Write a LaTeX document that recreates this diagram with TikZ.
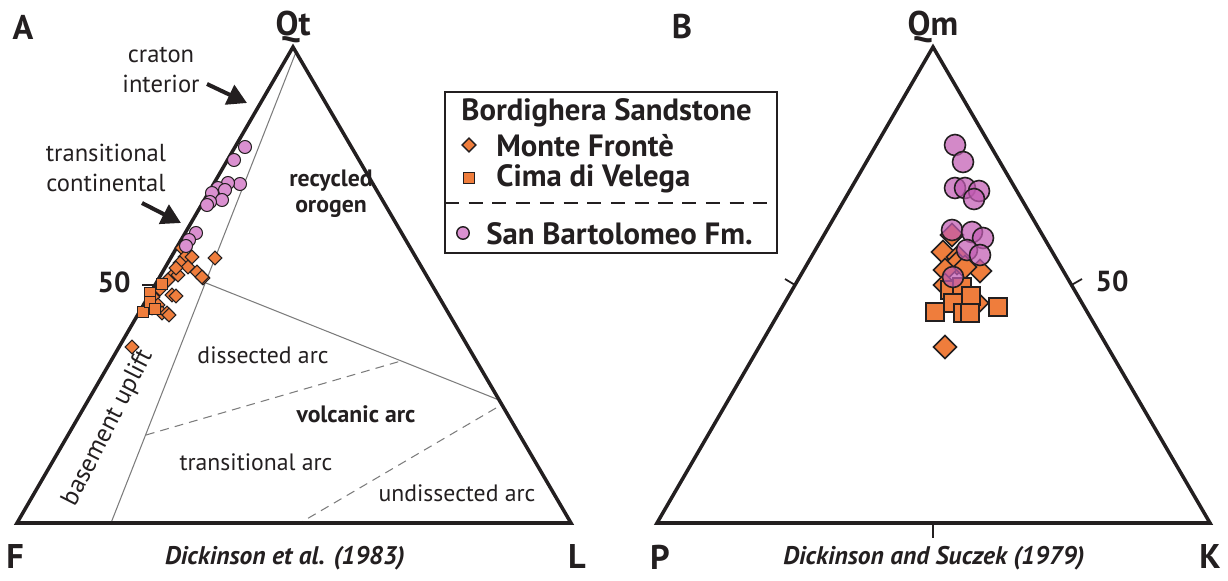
\documentclass[tikz,border=0pt]{standalone}
\usepackage{fontspec}
\setmainfont{PT Sans}
\usepackage{xcolor}
\definecolor{ink}{HTML}{231F20}
\definecolor{fieldline}{HTML}{7C7C7C}
\definecolor{fronte}{HTML}{EF7D3C}
\definecolor{bartolo}{HTML}{DA90D0}
\definecolor{bartolodk}{HTML}{C25CB3}
\usepackage{tikz}
\usetikzlibrary{arrows.meta, shapes.geometric}

\begin{document}
\begin{tikzpicture}[
  x=0.02cm, y=-0.02cm,
  font=\fontsize{13.5}{15}\selectfont,
  edge/.style={draw=ink, line width=2pt},
  field/.style={draw=fieldline, line width=0.6pt},
  fielddash/.style={field, dash pattern=on 5pt off 3.5pt},
  corner/.style={font=\fontsize{19.5}{22}\selectfont\bfseries, text=ink},
  region/.style={text=ink},
  regionbf/.style={text=ink, font=\fontsize{13.5}{15}\selectfont\bfseries},
  note/.style={text=ink, align=center, font=\fontsize{14}{17}\selectfont},
  source/.style={font=\fontsize{14.5}{16}\selectfont\bfseries\itshape, text=ink},
  pointer/.style={draw=ink, line width=2.3pt, -{Triangle[length=11pt,width=12pt]}},
  tick/.style={draw=ink, line width=1pt},
  legtext/.style={anchor=west, inner sep=0pt, text=ink,
    font=\fontsize{17.5}{19}\selectfont\bfseries},
  mf/.style={diamond, draw=ink, fill=fronte, line width=0.6pt,
    inner sep=0pt, minimum size=0.28cm},
  cv/.style={rectangle, draw=ink, fill=fronte, line width=0.6pt,
    inner sep=0pt, minimum size=0.22cm},
  sb/.style={circle, draw=ink, fill=bartolo, line width=0.6pt,
    inner sep=0pt, minimum size=0.26cm},
  mfbig/.style={mf, line width=0.9pt, minimum size=0.47cm},
  cvbig/.style={cv, line width=0.9pt, minimum size=0.37cm},
  sbbig/.style={sb, line width=0.9pt, fill=bartolodk, fill opacity=0.72,
    minimum size=0.42cm}
]
  \useasboundingbox (0,0) rectangle (1228,581);

  % ---- A: QtFL ----
  \coordinate (Qt) at (293,47);
  \coordinate (F)  at (17,523);
  \coordinate (L)  at (571,523);
  \coordinate (cb-top) at (296,52);
  \coordinate (cb-base) at (111,523);
  \coordinate (ro-a) at (206,283);
  \coordinate (ro-b) at (499,400);
  \coordinate (da-a) at (146,435);
  \coordinate (da-b) at (401,361);
  \coordinate (ua-a) at (496,408);
  \coordinate (ua-b) at (300,523);

  \draw[field] (cb-top) -- (cb-base);
  \draw[field] (ro-a) -- (ro-b);
  \draw[fielddash] (da-a) -- (da-b);
  \draw[fielddash] (ua-a) -- (ua-b);
  \draw[edge] (F) -- (L) -- (Qt) -- cycle;

  \coordinate (t50a) at (155,285);
  \coordinate (t50b) at (142,285);
  \draw[tick] (t50a) -- (t50b);
  \node[corner, font=\fontsize{16.5}{19}\selectfont\bfseries] (fifty-a) at (114,282) {50};

  \node[corner] (labA)  at (23,27)  {A};
  \node[corner] (labQt) at (293,27) {Qt};
  \node[corner] (labF)  at (15,557) {F};
  \node[corner] (labL)  at (577,557) {L};
  \node[source] (srcA)  at (285,558) {Dickinson et al. (1983)};

  \node[note] (craton) at (161,70) {craton\\interior};
  \coordinate (ci-tail) at (207,84);
  \coordinate (ci-tip)  at (247,103);
  \draw[pointer] (ci-tail) -- (ci-tip);
  \node[note] (transcont) at (106,168) {transitional\\continental};
  \coordinate (tc-tail) at (142,203);
  \coordinate (tc-tip)  at (181,223);
  \draw[pointer] (tc-tail) -- (tc-tip);

  \node[regionbf, align=center] (recycled) at (331,194) {recycled\\orogen};
  \node[region] (dissected) at (263,355) {dissected arc};
  \node[regionbf] (volcanic) at (356,414) {volcanic arc};
  \node[region] (transarc) at (256,462) {transitional arc};
  \node[region] (undissected) at (457,493) {undissected arc};
  \node[region, font=\fontsize{14.5}{16}\selectfont, rotate=63] (basement) at (108,428) {basement uplift};

  % data, panel A
  \foreach \px/\py [count=\n] in {182/248, 185/257, 192/257, 180/263, 188/267,
      215/258, 197/272, 203/278, 173/275, 178/275, 165/283, 168/280, 158/290,
      172/295, 153/297, 158/305, 152/308, 162/313, 167/313, 176/296, 169/315,
      202/277, 132/347, 176/268, 160/289}
    \node[mf] (mfa\n) at (\px,\py) {};
  \foreach \px/\py [count=\n] in {150/293, 143/312, 150/302, 155/309, 162/284}
    \node[cv] (cva\n) at (\px,\py) {};
  \foreach \px/\py [count=\n] in {245/147, 234/160, 240/184, 228/183, 218/188,
      225/190, 212/193, 222/200, 210/202, 207/205, 196/233, 189/240, 186/246}
    \node[sb] (sba\n) at (\px,\py) {};

  % ---- legend ----
  \node[draw=ink, line width=1.1pt, minimum width=6.64cm, minimum height=3.22cm,
    inner sep=0pt] (legend) at (611,172.5) {};
  \coordinate (leg-dl) at (445,203);
  \coordinate (leg-dr) at (777,203);
  \draw[draw=ink, line width=0.9pt, dash pattern=on 8pt off 5.5pt] (leg-dl) -- (leg-dr);
  \node[legtext] (leg-head) at (461,113) {Bordighera Sandstone};
  \node[mf, line width=0.8pt, minimum size=0.29cm] (leg-mf) at (469,145) {};
  \node[legtext] (leg-mft) at (496,146) {Monte Frontè};
  \node[cv, line width=0.8pt, minimum size=0.22cm] (leg-cv) at (469,178) {};
  \node[legtext] (leg-cvt) at (496,179) {Cima di Velega};
  \node[sb, line width=0.8pt, minimum size=0.25cm] (leg-sb) at (463,233) {};
  \node[legtext] (leg-sbt) at (486,234) {San Bartolomeo Fm.};

  % ---- B: QmPK ----
  \coordinate (Qm) at (933,47);
  \coordinate (P)  at (657,523);
  \coordinate (K)  at (1210,523);
  \draw[edge] (P) -- (K) -- (Qm) -- cycle;

  \coordinate (tl-a) at (795,285);
  \coordinate (tl-b) at (785,279);
  \coordinate (tr-a) at (1071.5,285);
  \coordinate (tr-b) at (1082,279);
  \coordinate (tb-a) at (933,523);
  \coordinate (tb-b) at (933,538);
  \draw[tick] (tl-a) -- (tl-b);
  \draw[tick] (tr-a) -- (tr-b);
  \draw[tick] (tb-a) -- (tb-b);
  \node[corner, font=\fontsize{16.5}{19}\selectfont\bfseries] (fifty-b) at (1112,281) {50};

  \node[corner] (labB)  at (682,27)  {B};
  \node[corner] (labQm) at (933,27)  {Qm};
  \node[corner] (labP)  at (660,557) {P};
  \node[corner] (labK)  at (1210,557) {K};
  \node[source] (srcB)  at (934,558) {Dickinson and Suczek (1979)};

  % data, panel B
  \foreach \px/\py [count=\n] in {952/235, 943/252, 958/257, 957/263, 945/270,
      980/271, 965/267, 945/285, 977/303, 945/347}
    \node[mfbig] (mfb\n) at (\px,\py) {};
  \foreach \px/\py [count=\n] in {950/290, 962/287, 971/296, 953/303, 935/312,
      998/307, 963/313, 970/313}
    \node[cvbig] (cvb\n) at (\px,\py) {};
  \foreach \px/\py [count=\n] in {955/145, 963/162, 955/188, 965/188, 979/191,
      974/199, 952/230, 972/232, 983/238, 967/250, 980/255, 953/277}
    \node[sbbig] (sbb\n) at (\px,\py) {};
\end{tikzpicture}
\end{document}
